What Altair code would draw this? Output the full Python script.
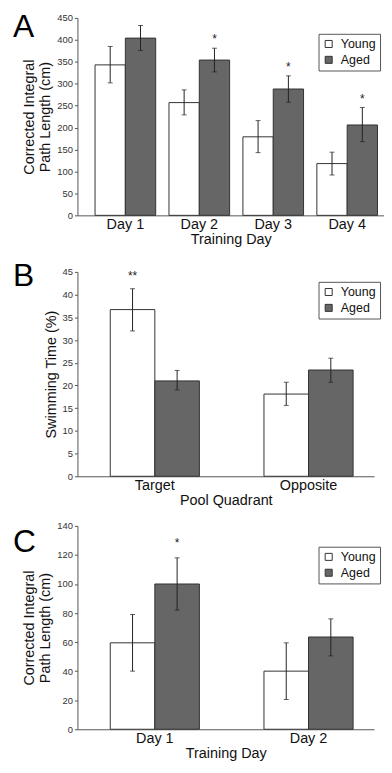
import altair as alt
import pandas as pd

FONT = "Liberation Sans"
groups = ["Young", "Aged"]

# Panel A
a_cats = ["Day 1", "Day 2", "Day 3", "Day 4"]
a_young = [343, 257, 179, 118]
a_young_lo = [302, 229, 143, 92]
a_young_hi = [385, 286, 216, 144]
a_aged = [404, 354, 288, 206]
a_aged_lo = [376, 327, 258, 168]
a_aged_hi = [433, 381, 318, 246]
a_star_cats = ["Day 2", "Day 3", "Day 4"]
a_star_groups = ["Aged", "Aged", "Aged"]
a_star_y = [401, 338, 266]
a_star_text = ["*", "*", "*"]

# Panel B
b_cats = ["Target", "Opposite"]
b_young = [36.7, 18.1]
b_young_lo = [32.0, 15.6]
b_young_hi = [41.3, 20.7]
b_aged = [21.0, 23.4]
b_aged_lo = [19.0, 20.7]
b_aged_hi = [23.3, 26.0]
b_star_cats = ["Target"]
b_star_groups = ["Young"]
b_star_y = [44.0]
b_star_text = ["**"]

# Panel C
c_cats = ["Day 1", "Day 2"]
c_young = [59.5, 40.0]
c_young_lo = [40.0, 20.5]
c_young_hi = [79.0, 59.5]
c_aged = [100.0, 63.5]
c_aged_lo = [82.0, 50.5]
c_aged_hi = [118.0, 76.0]
c_star_cats = ["Day 1"]
c_star_groups = ["Aged"]
c_star_y = [128.5]
c_star_text = ["*"]


def make_df(cats, yv, ylo, yhi, av, alo, ahi):
    rows = []
    for i, c in enumerate(cats):
        rows.append(dict(cat=c, group="Young", value=yv[i], lo=ylo[i], hi=yhi[i]))
        rows.append(dict(cat=c, group="Aged", value=av[i], lo=alo[i], hi=ahi[i]))
    return pd.DataFrame(rows)


def panel(df, star_df, cats, ymax, ystep, xtitle, ytitle, width, height,
          pi, po, align, letter, letter_y, legx, legy):
    xaxis = alt.Axis(title=xtitle, labelAngle=0)
    xscale = alt.Scale(paddingInner=pi, paddingOuter=po, align=align)
    x = alt.X("cat:N", sort=cats, scale=xscale, axis=xaxis)
    xo = alt.XOffset("group:N", sort=groups,
                     scale=alt.Scale(domain=groups, paddingInner=0, paddingOuter=0))
    yscale = alt.Scale(domain=[0, ymax], nice=False, zero=True)
    yaxis = alt.Axis(title=ytitle, values=list(range(0, ymax + 1, ystep)),
                     labelOverlap=False, titleFontSize=14.5, titleLineHeight=16)
    base = alt.Chart(df)
    bars = base.mark_bar(stroke="#333333", strokeWidth=1).encode(
        x=x, xOffset=xo,
        y=alt.Y("value:Q", scale=yscale, axis=yaxis),
        fill=alt.Fill("group:N", sort=groups,
                      scale=alt.Scale(domain=groups, range=["#ffffff", "#666666"]),
                      legend=alt.Legend(title=None, orient="none",
                                        legendX=legx, legendY=legy)),
    )
    rules = base.mark_rule(color="#222222", strokeWidth=1).encode(
        x=x, xOffset=xo, y=alt.Y("lo:Q", scale=yscale, axis=yaxis), y2="hi:Q")
    cap_lo = base.mark_tick(color="#222222", size=5, thickness=1).encode(
        x=x, xOffset=xo, y=alt.Y("lo:Q", scale=yscale, axis=yaxis))
    cap_hi = base.mark_tick(color="#222222", size=5, thickness=1).encode(
        x=x, xOffset=xo, y=alt.Y("hi:Q", scale=yscale, axis=yaxis))
    stars = alt.Chart(star_df).mark_text(
        font=FONT, fontSize=12, baseline="middle", color="#222222").encode(
        x=x, xOffset=xo,
        y=alt.Y("y:Q", scale=yscale, axis=yaxis), text="t:N")
    let = alt.Chart(pd.DataFrame({"t": [letter]})).mark_text(
        font=FONT, fontSize=32, align="left", baseline="top", color="#000000"
    ).encode(text="t:N", x=alt.value(-65), y=alt.value(letter_y))
    return alt.layer(bars, rules, cap_lo, cap_hi, stars, let).properties(
        width=width, height=height)


dfa = make_df(a_cats, a_young, a_young_lo, a_young_hi, a_aged, a_aged_lo, a_aged_hi)
dfb = make_df(b_cats, b_young, b_young_lo, b_young_hi, b_aged, b_aged_lo, b_aged_hi)
dfc = make_df(c_cats, c_young, c_young_lo, c_young_hi, c_aged, c_aged_lo, c_aged_hi)
sa = pd.DataFrame(dict(cat=a_star_cats, group=a_star_groups, y=a_star_y, t=a_star_text))
sb = pd.DataFrame(dict(cat=b_star_cats, group=b_star_groups, y=b_star_y, t=b_star_text))
sc = pd.DataFrame(dict(cat=c_star_cats, group=c_star_groups, y=c_star_y, t=c_star_text))

pa = panel(dfa, sa, a_cats, 450, 50, "Training Day",
           ["Corrected Integral", "Path Length (cm)"], 309, 199,
           0.18, 0.163, 0.73, "A", -6, 243, 16)
pb = panel(dfb, sb, b_cats, 45, 5, "Pool Quadrant", "Swimming Time (%)", 299, 206,
           0.42, 0.175, 0.61, "B", -11, 243, 10)
pc = panel(dfc, sc, c_cats, 140, 20, "Training Day",
           ["Corrected Integral", "Path Length (cm)"], 299, 205,
           0.42, 0.175, 0.61, "C", 1, 243, 21)

chart = alt.vconcat(pa, pb, pc, spacing=14).resolve_scale(
    x="independent", y="independent", fill="independent", xOffset="independent"
).resolve_legend(fill="independent").properties(
    padding={"left": 5, "top": 0, "right": 0, "bottom": 0}
).configure_view(stroke=None).configure_axisY(
    labelFont=FONT, labelFontSize=9.5, labelColor="#333333", tickSize=3,
    tickColor="#555555", domainColor="#555555", titleFont=FONT, titleFontSize=14.5,
    titleFontWeight="normal", titleColor="#111111", titlePadding=4, labelPadding=2,
    titleLineHeight=16, grid=False
).configure_axisX(
    labelFont=FONT, labelFontSize=14.5, labelColor="#111111", ticks=False,
    domainColor="#555555", titleFont=FONT, titleFontSize=14.5,
    titleFontWeight="normal", titleColor="#111111", labelPadding=2,
    titlePadding=2, grid=False
).configure_legend(
    labelFont=FONT, labelFontSize=12.5, labelColor="#111111", symbolType="square",
    symbolSize=50, symbolStrokeColor="#333333", symbolStrokeWidth=1,
    strokeColor="#555555", fillColor="#ffffff", padding=4, rowPadding=3,
    labelOffset=6, cornerRadius=0
)

chart.save("out.html", embed_options={"renderer": "svg", "actions": False})
